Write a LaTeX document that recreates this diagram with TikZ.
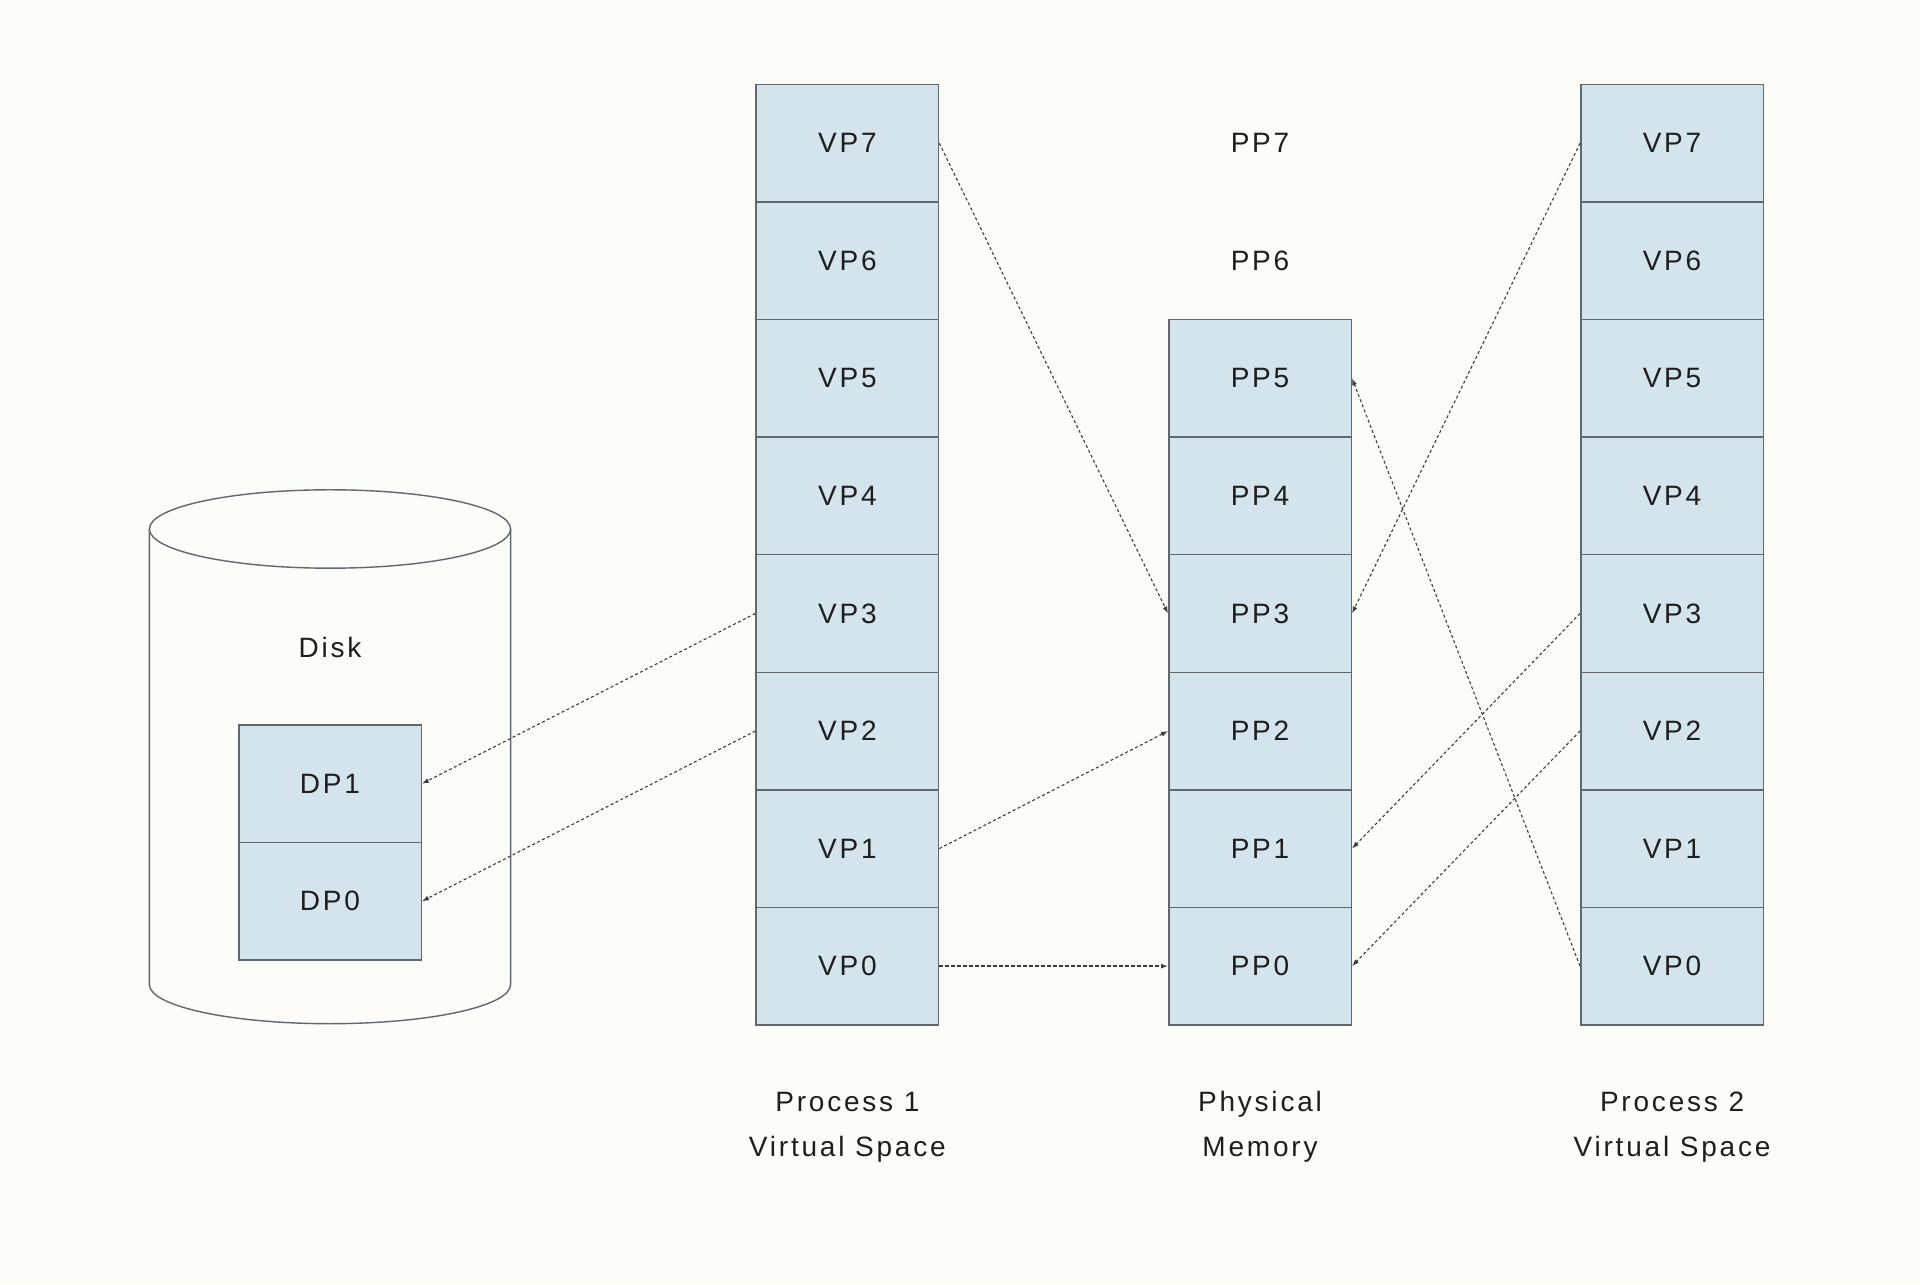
\documentclass[tikz,border=0pt]{standalone}
\usepackage{fontspec}
\setmainfont{Liberation Sans}[LetterSpace=10]
\usetikzlibrary{arrows.meta}
\definecolor{bg}{RGB}{252,252,249}
\definecolor{cellfill}{RGB}{212,228,236}
\definecolor{cellline}{RGB}{96,104,108}
\definecolor{txt}{RGB}{30,30,30}
\definecolor{arr}{RGB}{60,60,60}
\begin{document}
\begin{tikzpicture}[x=1.2245pt,y=-1.2245pt,
  cell/.style={draw=cellline, fill=cellfill, line width=1.5pt, minimum width=182.5pt, minimum height=117.55pt, inner sep=0pt, font=\fontsize{28}{32}\selectfont, text=txt},
  plain/.style={inner sep=0pt, font=\fontsize{28}{32}\selectfont, text=txt},
  caption/.style={inner sep=0pt, align=center, font=\fontsize{28}{45}\selectfont, text=txt},
  link/.style={draw=arr, line width=1.1pt, dash pattern=on 3pt off 2.5pt, -{Latex[length=7pt,width=5pt]}},
  strong/.style={line width=1.4pt, dash pattern=on 4pt off 2pt}
]
\fill[bg] (0,0) rectangle (1568,1048.6);
\useasboundingbox (0,0) rectangle (1568,1048.6);

% disk cylinder
\draw[cellline, line width=1.4pt, fill=bg] (122,432) -- (122,804)
  arc[start angle=180, end angle=360, x radius=180.6pt, y radius=39.2pt] -- (417,432);
\draw[cellline, line width=1.4pt, fill=bg] (269.5,432) ellipse [x radius=180.6pt, y radius=39.2pt];
\node[plain] (disk) at (269.5,529) {Disk};
\node[cell] (d1) at (269.5,640) {DP1};
\node[cell] (d0) at (269.5,736) {DP0};

% process 1
\foreach \i in {0,...,7}
  \node[cell] (a\i) at (692,{789-96*\i}) {VP\i};
% physical memory
\foreach \i in {0,...,5}
  \node[cell] (p\i) at (1029,{789-96*\i}) {PP\i};
\node[plain] (p6) at (1029,213) {PP6};
\node[plain] (p7) at (1029,117) {PP7};
% process 2
\foreach \i in {0,...,7}
  \node[cell] (b\i) at (1365.5,{789-96*\i}) {VP\i};

% captions
\node[caption] (l1) at (692,920.5) {Process 1\\Virtual Space};
\node[caption] (l2) at (1029,920.5) {Physical\\Memory};
\node[caption] (l3) at (1365.5,920.5) {Process 2\\Virtual Space};

% mappings
\draw[link] (a7.east) -- (p3.west);
\draw[link] (a3.west) -- (d1.east);
\draw[link] (a2.west) -- (d0.east);
\draw[link] (a1.east) -- (p2.west);
\draw[link, strong] (a0.east) -- (p0.west);
\draw[link] (b7.west) -- (p3.east);
\draw[link] (b3.west) -- (p1.east);
\draw[link] (b2.west) -- (p0.east);
\draw[link] (b0.west) -- (p5.east);
\end{tikzpicture}
\end{document}
